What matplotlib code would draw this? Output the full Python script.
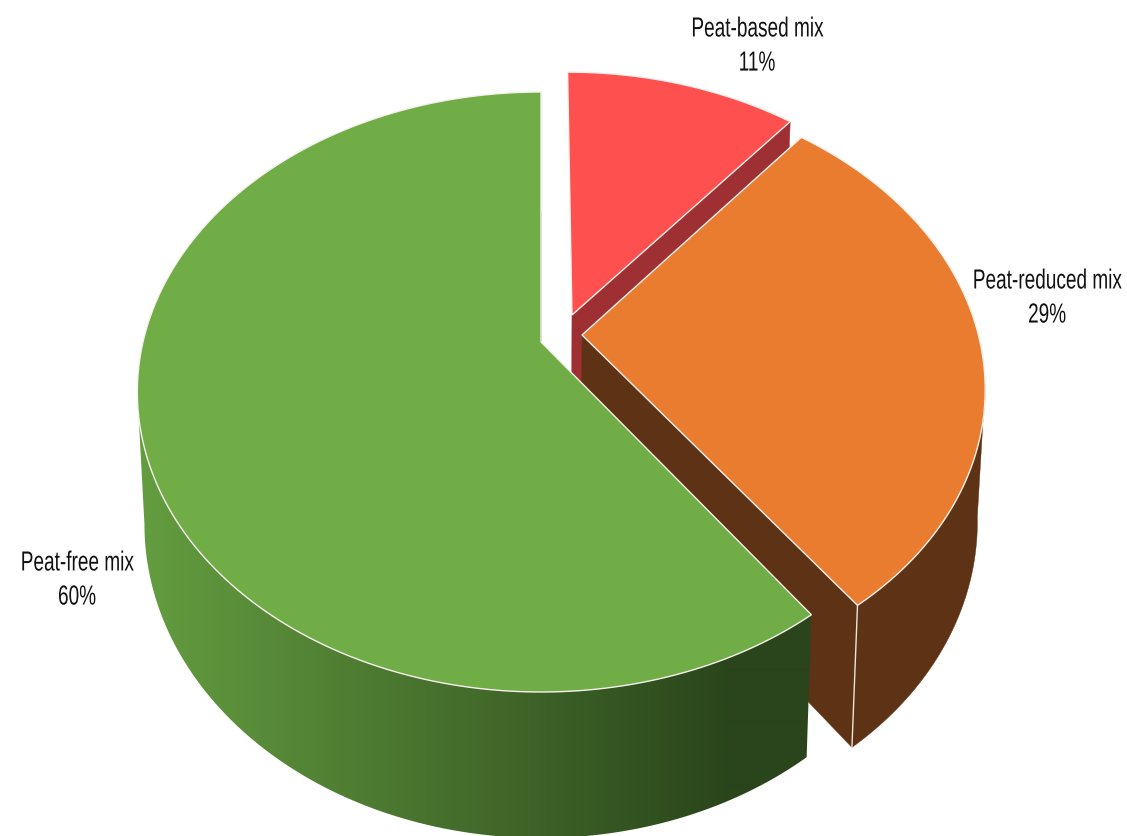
import numpy as np
import matplotlib
matplotlib.use("Agg")
import matplotlib.pyplot as plt
from matplotlib.colors import LinearSegmentedColormap
from matplotlib.patches import Polygon
from matplotlib.patheffects import AbstractPathEffect
from matplotlib.transforms import Affine2D

# ---- data ----
categories = ["Peat-based mix", "Peat-reduced mix", "Peat-free mix"]
values = [11, 29, 60]
top_colors = ["#FF5050", "#EA7C30", "#70AD47"]
side_colors = ["#9E3034", "#5E3214", None]
explode_xy = [(0.079, 0.094), (0.1034, 0.0241), (0.0, 0.0)]
label_pos = [(757, 47), (1047, 299), (77, 581)]

# ---- camera (pixel space of a perspective pie) ----
CX = 541.0
K = 1 / 6
TOP = dict(ax=398.0, by=291.67, y0=342.0)
BOT = dict(ax=391.0, by=305.0, y0=472.0)
# angles at which the perspective rim turns away from the viewer
FRONT = np.degrees(np.arccos(-K))
BACK = 360 - FRONT


class StretchY(AbstractPathEffect):
    """Draw text taller than wide, as in the source picture."""

    def __init__(self, yc, sy):
        super().__init__()
        self.yc, self.sy = yc, sy

    def draw_path(self, renderer, gc, tpath, affine, rgbFace=None):
        t = Affine2D().translate(0, -self.yc).scale(1, self.sy).translate(0, self.yc)
        renderer.draw_path(gc, tpath, affine + t, rgbFace)


def project(X, Y, plane):
    d = 1 + K * np.asarray(Y)
    return CX + plane["ax"] * np.asarray(X) / d, plane["y0"] - plane["by"] * np.asarray(Y) / d


def arc(a0, a1, off, n=200):
    a = np.radians(np.linspace(a0, a1, n))
    return off[0] + np.sin(a), off[1] + np.cos(a)


fig = plt.figure(figsize=(11.27, 8.36), dpi=100)
ax = fig.add_axes([0, 0, 1, 1])
ax.set_xlim(0, 1127)
ax.set_ylim(836, 0)
ax.axis("off")

green_cmap = LinearSegmentedColormap.from_list("side", ["#649D40", "#2A451B"])
grad = np.clip((np.arange(1127) - 140) / 590, 0, 1)[None, :]

start = 0.0
z = 1
for name, val, top, side, off, lp in zip(categories, values, top_colors, side_colors, explode_xy, label_pos):
    end = start + val * 3.6
    X, Y = arc(start, end, off)
    xt, yt = project(X, Y, TOP)
    xb, yb = project(X, Y, BOT)
    ox_t, oy_t = project(off[0], off[1], TOP)
    ox_b, oy_b = project(off[0], off[1], BOT)

    # radial wall at the slice end
    wall = np.array([[ox_t, oy_t], [xt[-1], yt[-1]], [xb[-1], yb[-1]], [ox_b, oy_b]])
    wc = side if side else "#2A451B"
    ax.add_patch(Polygon(wall, closed=True, fc=wc, ec=wc, lw=0.3, zorder=z))

    # rim wall, front-facing part only
    r0, r1 = max(start, FRONT), min(end, BACK)
    if r1 > r0:
        RX, RY = arc(r0, r1, off)
        rxt, ryt = project(RX, RY, TOP)
        rxb, ryb = project(RX, RY, BOT)
        rim = np.column_stack([np.r_[rxt, rxb[::-1]], np.r_[ryt, ryb[::-1]]])
        if side:
            ax.add_patch(Polygon(rim, closed=True, fc=side, ec=side, lw=0.3, zorder=z + 0.1))
        else:
            clip = Polygon(rim, closed=True, transform=ax.transData, fc="none", ec="none")
            ax.add_patch(clip)
            im = ax.imshow(grad, extent=(0, 1127, 836, 0), cmap=green_cmap, vmin=0, vmax=1,
                           aspect="auto", zorder=z + 0.1, interpolation="bilinear")
            im.set_clip_path(clip)
        ax.plot([xt[-1], xb[-1]], [yt[-1], yb[-1]], color="#E8E4E0", lw=1.0, zorder=z + 0.2)

    # top face
    face = np.column_stack([np.r_[ox_t, xt], np.r_[oy_t, yt]])
    ax.add_patch(Polygon(face, closed=True, fc=top, ec="#F6F0EC", lw=1.0, joinstyle="miter", zorder=z + 0.3))

    yc = ax.transData.transform((lp[0], lp[1]))[1]
    ax.text(lp[0], lp[1], f"{name}\n{val}%", ha="center", va="center", fontsize=13.7,
            family="Liberation Sans", color="#111111", linespacing=1.5, zorder=20,
            path_effects=[StretchY(yc, 1.45)])
    start = end
    z += 1

ax.set_xlim(0, 1127)
ax.set_ylim(836, 0)
fig.savefig("out.png", dpi=100, facecolor="white")
